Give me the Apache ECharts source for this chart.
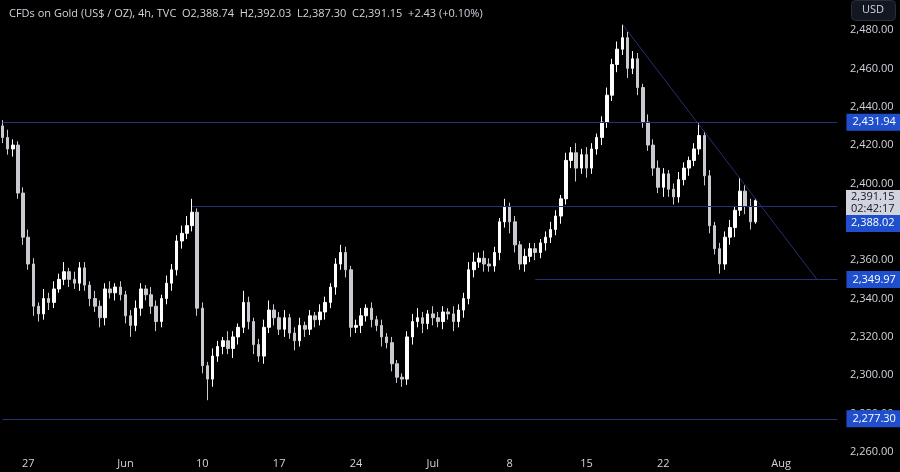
<!DOCTYPE html>
<html><head><meta charset="utf-8">
<script src="https://cdn.jsdelivr.net/npm/echarts@6/dist/echarts.min.js"></script>
<style>html,body{margin:0;background:#000}#c{width:900px;height:472px}</style>
</head><body><div id="c"></div>
<script>
const firstOpen = 2430;
const closes = [2424,2418,2420,2395,2372,2358,2336,2332,2340,2338,2345,2350,2354,2350,2348,2356,2347,2340,2336,2330,
2345,2343,2346,2342,2331,2326,2335,2345,2342,2336,2328,2340,2348,2355,2370,2374,2378,2385,2335,2305,
2298,2310,2315,2318,2314,2320,2325,2338,2328,2316,2310,2325,2334,2330,2324,2330,2322,2318,2326,2324,
2331,2329,2333,2338,2346,2358,2364,2355,2325,2326,2331,2335,2329,2326,2320,2317,2306,2299,2298,2320,
2328,2330,2327,2332,2330,2328,2333,2332,2328,2334,2340,2355,2359,2361,2358,2357,2364,2380,2388,2380,
2368,2358,2362,2366,2364,2369,2372,2376,2383,2392,2412,2416,2408,2415,2408,2418,2424,2432,2446,2462,
2470,2476,2460,2465,2450,2432,2420,2408,2398,2405,2397,2393,2402,2408,2412,2418,2425,2404,2378,2366,
2358,2372,2377,2386,2396,2388,2380,2391.15];
const wickUp = [3,4,3,2,3,4,3,2,5,3,4,3,5,2,4,3,3,2,4,3,
3,4,2,3,2,3,4,3,2,4,3,2,4,3,3,4,5,7,2,3,
2,4,3,2,5,3,2,6,3,2,3,4,5,3,3,4,2,3,4,2,
3,2,4,3,2,3,4,3,2,3,4,2,3,2,3,2,3,2,2,3,
4,5,3,2,4,3,3,2,4,3,3,4,5,3,4,3,3,2,4,2,
3,2,4,3,3,2,3,4,3,2,4,3,5,3,4,3,2,3,4,3,
4,7,3,4,3,2,4,3,4,3,2,3,4,3,2,3,7,2,3,2,
3,3,4,2,7,3,4,1];
const wickDn = [3,3,4,3,4,3,5,4,3,4,3,2,3,4,3,4,3,4,3,5,
4,3,4,3,4,6,3,4,3,4,5,3,3,4,3,4,3,3,4,4,
11,4,3,4,3,5,4,3,4,5,3,4,3,4,3,4,3,5,3,4,
3,4,3,4,3,4,3,4,5,3,4,3,4,3,5,3,4,3,4,3,
4,3,5,3,4,3,4,3,5,3,4,3,4,3,4,3,3,4,3,6,
4,3,4,3,4,3,4,3,3,4,3,4,7,3,5,3,3,4,3,3,
4,3,5,3,4,3,3,4,3,5,4,4,3,3,4,3,3,5,4,3,
5,3,4,5,3,4,4,1];
const xLabels = {5:'27',24:'Jun',39:'10',54:'17',69:'24',84:'Jul',99:'8',114:'15',129:'22',152:'Aug'};
const levels = [2431.94, 2388.02, 2349.97, 2277.30];
const lastPrice = 2391.15;
const countdown = '02:42:17';
const nSlots = 164;

const cats = Array.from({length:nSlots},(_,i)=>String(i));
const ohlc = closes.map((c,i)=>{
  const o = i===0?firstOpen:closes[i-1];
  return [o,c,Math.min(o,c)-wickDn[i],Math.max(o,c)+wickUp[i]];
});
const fmt = v => v.toLocaleString('en-US',{minimumFractionDigits:2,maximumFractionDigits:2});
const lineStyle = {color:'#262f78',width:1,type:'solid'};
const lbl = v => ({show:true,position:'end',distance:9,formatter:fmt(v),color:'#fff',backgroundColor:'#1f4fcc',padding:[3,6],fontSize:11,fontFamily:'Open Sans'});
const chart = echarts.init(document.getElementById('c'));
chart.setOption({
  backgroundColor:'#000',
  animation:false,
  title:{text:'CFDs on Gold (US$ / OZ), 4h, TVC  O2,388.74  H2,392.03  L2,387.30  C2,391.15  +2.43 (+0.10%)',left:4,top:3,textStyle:{color:'#d1d4dc',fontSize:11,fontWeight:'normal',fontFamily:'Open Sans'}},
  grid:{left:0,right:60,top:0,bottom:20},
  xAxis:{type:'category',data:cats,boundaryGap:true,axisLine:{show:false},axisTick:{show:false},splitLine:{show:false},
    axisLabel:{interval:(i)=>xLabels[i]!==undefined,formatter:(v,i)=>xLabels[i]||'',color:'#d1d4dc',fontSize:11,margin:6,fontFamily:'Open Sans'}},
  yAxis:{type:'value',position:'right',min:2260,max:2495.64,interval:20,
    axisLine:{show:false},axisTick:{show:false},splitLine:{show:false},
    axisLabel:{formatter:v=>v>2490?'':fmt(v),color:'#d1d4dc',fontSize:11,margin:10,fontFamily:'Open Sans',showMaxLabel:false}},
  series:[{type:'candlestick',data:ohlc,barWidth:3,
    itemStyle:{color:'#ffffff',color0:'#c8cad0',borderColor:'#ffffff',borderColor0:'#c8cad0',borderWidth:1},
    markLine:{symbol:'none',silent:true,animation:false,lineStyle:lineStyle,data:[
      [{coord:['0',levels[0]]},{coord:['163',levels[0]],label:lbl(levels[0])}],
      [{coord:['37',levels[1]]},{coord:['163',levels[1]],label:{show:false}}],
      [{coord:['104',levels[2]]},{coord:['163',levels[2]],label:lbl(levels[2])}],
      [{coord:['0',levels[3]]},{coord:['163',levels[3]],label:lbl(levels[3])}],
      [{coord:['121',2483]},{coord:['159',levels[2]],label:{show:false}}]
    ]}
  }]
});
const py = chart.convertToPixel({yAxisIndex:0}, lastPrice);
const boxTop = Math.round(py) - 10;
chart.setOption({graphic:[
  {type:'rect',right:4,top:0,shape:{width:44,height:20,r:4},style:{fill:'#131722',stroke:'#2a2e39'}},
  {type:'text',right:16,top:4,style:{text:'USD',fill:'#d1d4dc',font:'11px Open Sans'}},
  {type:'rect',z:10,shape:{x:846,y:boxTop,width:54,height:25},style:{fill:'#d1d4dc'}},
  {type:'text',z:11,x:851,y:boxTop+1,style:{text:fmt(lastPrice)+'\n'+countdown,fill:'#131722',font:'11px Open Sans',lineHeight:12,verticalAlign:'top',textVerticalAlign:'top'}},
  {type:'rect',z:10,shape:{x:846,y:boxTop+25,width:54,height:17},style:{fill:'#1f4fcc'}},
  {type:'text',z:11,x:851,y:boxTop+27,style:{text:fmt(levels[1]),fill:'#fff',font:'11px Open Sans',verticalAlign:'top',textVerticalAlign:'top'}}
]});
</script></body></html>
